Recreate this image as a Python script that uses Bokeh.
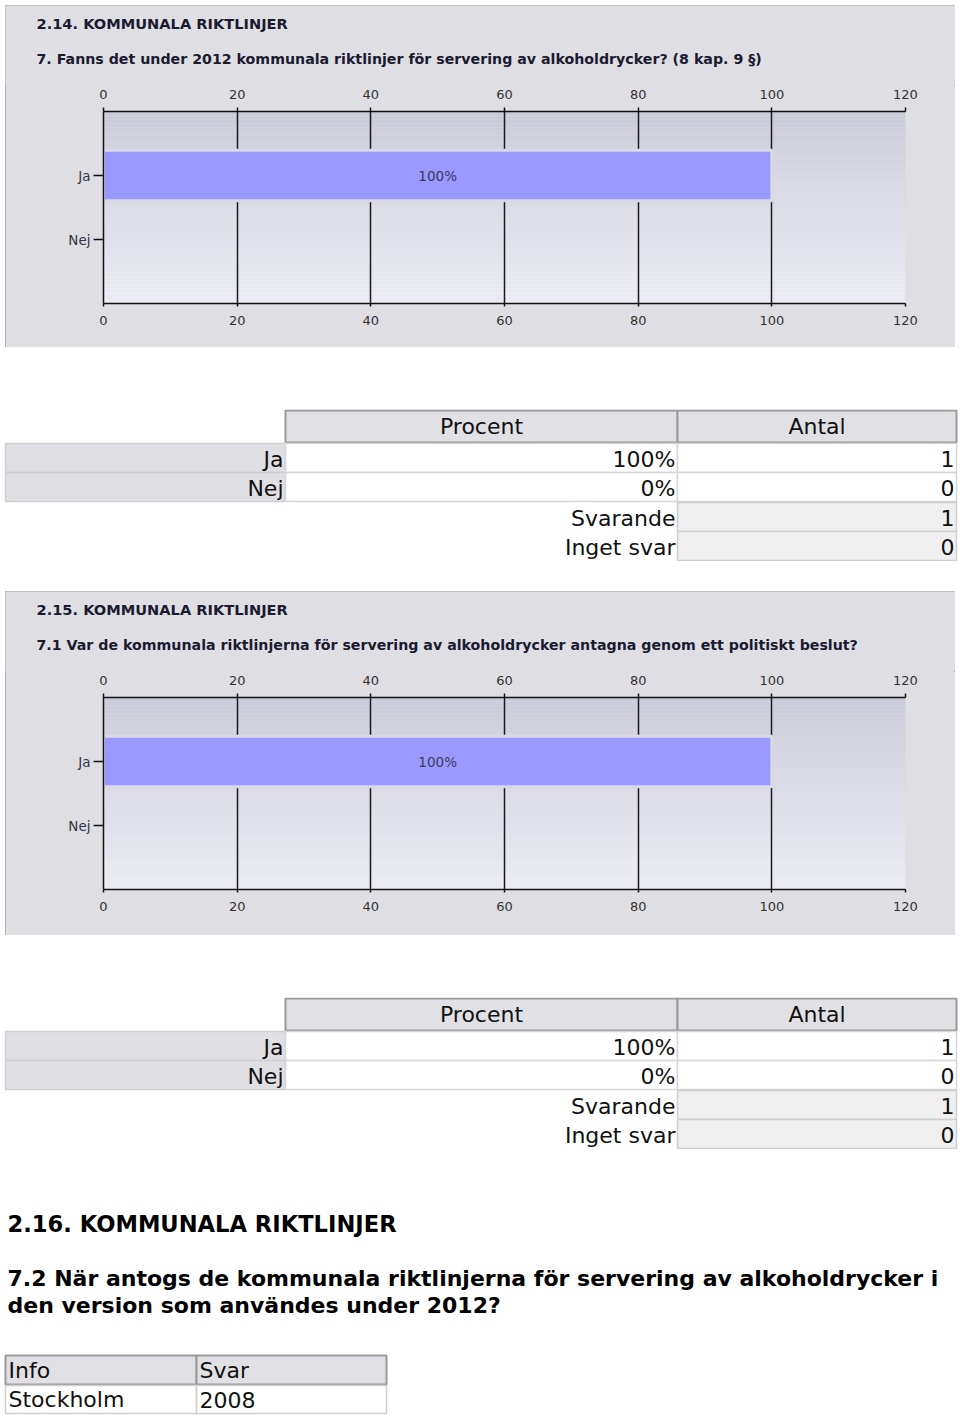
import numpy as np
from bokeh.plotting import figure
from bokeh.models import Range1d, FixedTicker, LinearAxis, Spacer
from bokeh.layouts import column, row
from bokeh.embed import file_html
from bokeh.resources import INLINE
from bokeh.core.properties import value

FONT = "DejaVu Sans"

# ---------------- data ----------------
options = ["Ja", "Nej"]
x_ticks = [0, 20, 40, 60, 80, 100, 120]

s1_section = "2.14. KOMMUNALA RIKTLINJER"
s1_question = "7. Fanns det under 2012 kommunala riktlinjer för servering av alkoholdrycker? (8 kap. 9 §)"
s1_percent = [100, 0]
s1_count = [1, 0]
s1_responding = 1
s1_no_answer = 0

s2_section = "2.15. KOMMUNALA RIKTLINJER"
s2_question = "7.1 Var de kommunala riktlinjerna för servering av alkoholdrycker  antagna genom ett politiskt beslut?"
s2_percent = [100, 0]
s2_count = [1, 0]
s2_responding = 1
s2_no_answer = 0

table_headers = ["Procent", "Antal"]
summary_labels = ["Svarande", "Inget svar"]

s3_section = "2.16. KOMMUNALA RIKTLINJER"
s3_question_lines = [
    "7.2 När antogs de kommunala riktlinjerna för servering av alkoholdrycker i",
    "den version som användes under 2012?",
]
s3_headers = ["Info", "Svar"]
s3_info = ["Stockholm"]
s3_answer = ["2008"]

PANEL_BG = "#dfdfe3"


def gradient(c0, c1, n):
    out = []
    for t in np.linspace(0, 1, n):
        r, g, b = [int(round(a + (bb - a) * t)) for a, bb in zip(c0, c1)]
        out.append("#%02x%02x%02x" % (r, g, b))
    return out


def bare_fig(w, h, bg="white"):
    p = figure(width=w, height=h, x_range=Range1d(0, w), y_range=Range1d(h, 0),
               x_axis_location=None, y_axis_location=None,
               output_backend="svg", toolbar_location=None,
               min_border=0, min_border_left=0, min_border_right=0,
               min_border_top=0, min_border_bottom=0)
    p.outline_line_color = None
    p.border_fill_color = bg
    p.background_fill_color = bg
    p.xgrid.visible = False
    p.ygrid.visible = False
    return p


def chart_panel(section, question, percents, height):
    head_h = 80
    head = bare_fig(950, head_h, PANEL_BG)
    head.text(x=31, y=[18], text=[section], text_align="left",
              text_baseline="middle", text_font=value(FONT), text_font_size="14.6px",
              text_font_style="bold", text_color="#1a1a30")
    head.text(x=31, y=[53], text=[question], text_align="left",
              text_baseline="middle", text_font=value(FONT), text_font_size="14.2px",
              text_font_style="bold", text_color="#1a1a30")

    ch = height - head_h
    n_slots = len(options) + 1
    p = figure(width=950, height=ch,
               x_range=Range1d(x_ticks[0], x_ticks[-1]),
               y_range=Range1d(n_slots, 0),
               x_axis_location="above",
               output_backend="svg", toolbar_location=None,
               min_border_left=98, min_border_right=50,
               min_border_top=26, min_border_bottom=ch - 218)
    p.border_fill_color = PANEL_BG
    p.background_fill_color = "#dcdce6"
    p.outline_line_color = None

    # gradient background of the plot area
    nb = 48
    edges = np.linspace(0, n_slots, nb + 1)
    p.quad(left=x_ticks[0], right=x_ticks[-1], top=edges[:-1], bottom=edges[1:],
           fill_color=gradient((203, 204, 217), (237, 237, 245), nb),
           line_color=None, level="image")

    # axes
    top_ax = p.xaxis[0]
    bot_ax = LinearAxis()
    p.add_layout(bot_ax, "below")
    for ax in (top_ax, bot_ax):
        ax.ticker = FixedTicker(ticks=x_ticks)
        ax.axis_line_color = "#111111"
        ax.axis_line_width = 1.5
        ax.major_tick_line_color = "#111111"
        ax.major_tick_line_width = 1.5
        ax.major_tick_in = 0
        ax.minor_tick_line_color = None
        ax.major_label_text_font = FONT
        ax.major_label_text_font_size = "13px"
        ax.major_label_text_color = "#333333"
    top_ax.major_tick_out = 4
    top_ax.major_label_standoff = 9
    bot_ax.major_tick_out = 3
    bot_ax.major_label_standoff = 9

    ypos = list(range(1, len(options) + 1))
    yax = p.yaxis[0]
    yax.ticker = FixedTicker(ticks=ypos)
    yax.major_label_overrides = {y: o for y, o in zip(ypos, options)}
    yax.axis_line_color = "#111111"
    yax.axis_line_width = 1.5
    yax.major_tick_out = 10
    yax.major_tick_in = 0
    yax.major_tick_line_color = "#111111"
    yax.major_tick_line_width = 1.5
    yax.minor_tick_line_color = None
    yax.major_label_standoff = 3
    yax.major_label_text_font = FONT
    yax.major_label_text_font_size = "13.5px"
    yax.major_label_text_color = "#333344"

    p.xgrid.ticker = FixedTicker(ticks=x_ticks[:-1])
    p.xgrid.grid_line_color = "#1a1a1a"
    p.xgrid.grid_line_width = 1.5
    p.ygrid.visible = False

    # bars
    shown = [1 if v > 0 else 0 for v in percents]
    p.hbar(y=ypos, left=0, right=percents, height=0.786,
           fill_color="#9999ff", fill_alpha=shown,
           line_color="#d9d9e5", line_width=3, line_alpha=shown)
    lab_x = [v / 2 for v in percents if v > 0]
    lab_y = [y for y, v in zip(ypos, percents) if v > 0]
    lab_t = [f"{v}%" for v in percents if v > 0]
    p.text(x=lab_x, y=lab_y, text=lab_t, text_align="center", text_baseline="middle",
           text_font=value(FONT), text_font_size="13.5px", text_color="#3a3a5c")

    box = column(row(head), row(p), spacing=0,
                 styles={"outline": "1px solid #a0a0a0", "outline-offset": "-1px",
                         "background-color": PANEL_BG})
    return box


def answer_table(percents, counts, responding, no_answer):
    H = 152
    p = bare_fig(960, H)
    lab_l, lab_r = 5, 285
    pct_l, pct_r = 285, 677
    cnt_l, cnt_r = 677, 956
    head_t, head_b = 1, 33
    row_t = [34, 63, 93, 122]
    row_h = 29

    p.quad(left=[pct_l, cnt_l], right=[pct_r, cnt_r], top=head_t, bottom=head_b,
           fill_color="#e1e1e5", line_color="#9a9a9a", line_width=2)
    p.text(x=[(pct_l + pct_r) / 2, (cnt_l + cnt_r) / 2], y=(head_t + head_b) / 2,
           text=table_headers, text_align="center", text_baseline="middle",
           text_font=value(FONT), text_font_size="22px", text_color="#111111")

    n = len(options)
    tops = row_t[:n]
    bots = [t + row_h for t in tops]
    mids = [t + row_h / 2 + 1 for t in tops]
    p.quad(left=lab_l, right=lab_r, top=tops, bottom=bots,
           fill_color="#e0e0e4", line_color="#cfcfcf", line_width=1.5)
    p.quad(left=pct_l, right=pct_r, top=tops, bottom=bots,
           fill_color="white", line_color="#d6d6d6", line_width=1.5)
    p.quad(left=cnt_l, right=cnt_r, top=tops, bottom=bots,
           fill_color="white", line_color="#d6d6d6", line_width=1.5)
    p.text(x=lab_r - 2, y=mids, text=options, text_align="right", text_baseline="middle",
           text_font=value(FONT), text_font_size="22px", text_color="#111111")
    p.text(x=pct_r - 2, y=mids, text=[f"{v}%" for v in percents], text_align="right",
           text_baseline="middle", text_font=value(FONT), text_font_size="22px",
           text_color="#111111")
    p.text(x=cnt_r - 2, y=mids, text=[str(c) for c in counts], text_align="right",
           text_baseline="middle", text_font=value(FONT), text_font_size="22px",
           text_color="#111111")

    stops = row_t[n:n + 2]
    sbots = [t + row_h for t in stops]
    smids = [t + row_h / 2 + 1 for t in stops]
    p.quad(left=cnt_l, right=cnt_r, top=stops, bottom=sbots,
           fill_color="#efefef", line_color="#cfcfcf", line_width=1.5)
    p.text(x=pct_r - 2, y=smids, text=summary_labels, text_align="right",
           text_baseline="middle", text_font=value(FONT), text_font_size="22px",
           text_color="#111111")
    p.text(x=cnt_r - 2, y=smids, text=[str(responding), str(no_answer)], text_align="right",
           text_baseline="middle", text_font=value(FONT), text_font_size="22px",
           text_color="#111111")
    return p


def last_section():
    H = 269
    p = bare_fig(960, H)
    p.text(x=7, y=74, text=[s3_section], text_align="left", text_baseline="middle",
           text_font=value(FONT), text_font_size="22.6px", text_font_style="bold",
           text_color="#000000")
    p.text(x=7, y=[129, 156], text=s3_question_lines, text_align="left",
           text_baseline="middle", text_font=value(FONT), text_font_size="22px",
           text_font_style="bold", text_color="#000000")
    c_l = [5, 196]
    c_r = [196, 386]
    p.quad(left=c_l, right=c_r, top=206, bottom=235,
           fill_color="#e1e1e5", line_color="#9a9a9a", line_width=2)
    p.quad(left=c_l, right=c_r, top=236, bottom=264,
           fill_color="white", line_color="#cfcfcf", line_width=1.5)
    p.text(x=[l + 3 for l in c_l], y=221, text=s3_headers, text_align="left",
           text_baseline="middle", text_font=value(FONT), text_font_size="22px",
           text_color="#111111")
    p.text(x=[l + 3 for l in c_l], y=250, text=[s3_info[0], s3_answer[0]],
           text_align="left", text_baseline="middle", text_font=value(FONT),
           text_font_size="22px", text_color="#111111")
    return p


panel1 = chart_panel(s1_section, s1_question, s1_percent, 342)
table1 = answer_table(s1_percent, s1_count, s1_responding, s1_no_answer)
panel2 = chart_panel(s2_section, s2_question, s2_percent, 344)
table2 = answer_table(s2_percent, s2_count, s2_responding, s2_no_answer)
bottom = last_section()

layout = column(
    Spacer(width=960, height=5),
    row(Spacer(width=5, height=342), panel1),
    Spacer(width=960, height=62),
    table1,
    Spacer(width=960, height=30),
    row(Spacer(width=5, height=344), panel2),
    Spacer(width=960, height=62),
    table2,
    bottom,
    spacing=0,
)

open("out.html", "w").write(file_html(layout, INLINE))
